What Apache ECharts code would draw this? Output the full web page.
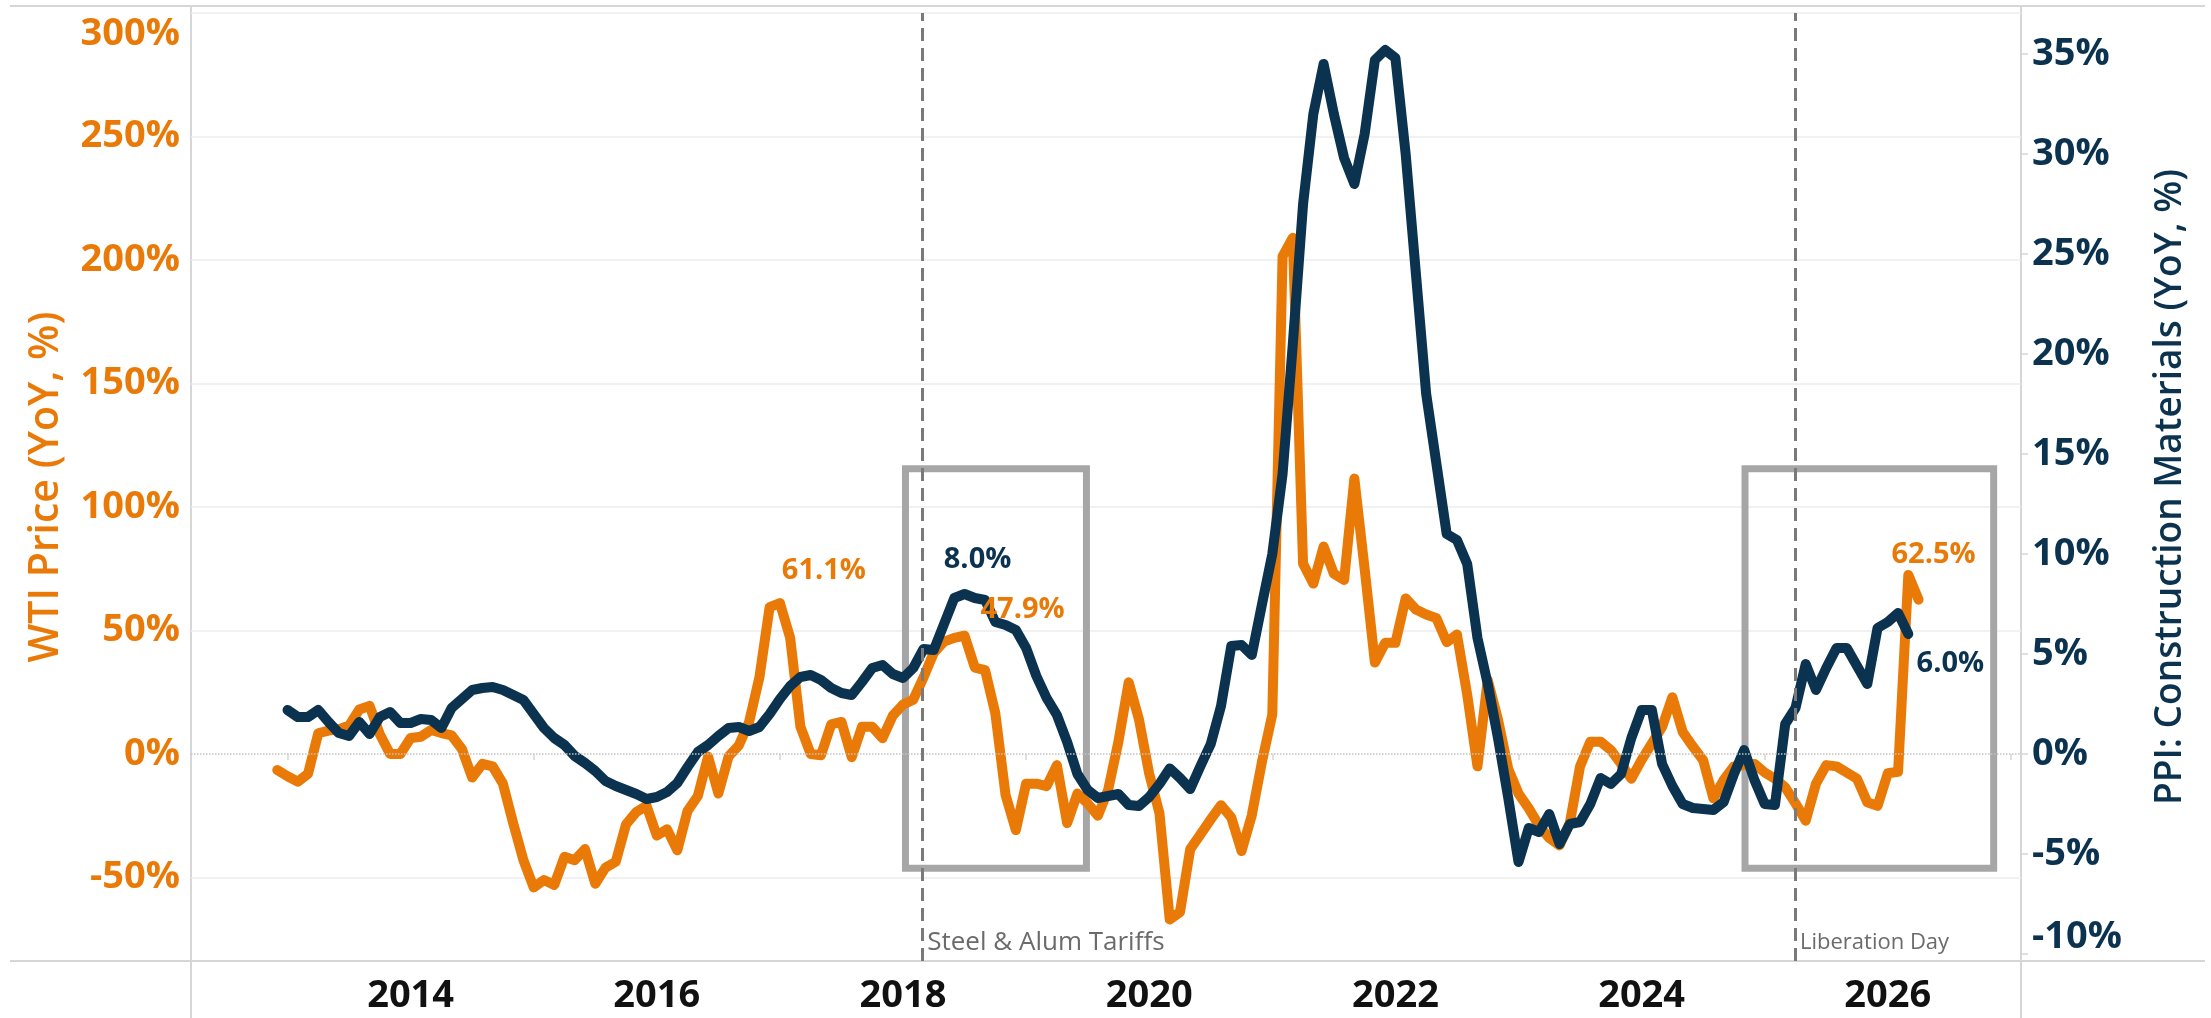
<!DOCTYPE html>
<html>
<head>
<meta charset="utf-8">
<title>WTI vs PPI Construction Materials</title>
<script src="https://cdn.jsdelivr.net/npm/echarts@6.0.0/dist/echarts.min.js"></script>
<style>
  html, body { margin: 0; padding: 0; background: #fff; }
  #chart { width: 2211px; height: 1018px; }
</style>
</head>
<body>
<div id="chart"></div>
<script>
// monthly series, first point = Dec 2012
const startYear = 2012
const startMonth = 12

// WTI price, YoY %
const wti = [
  -6.5, -9, -11.2, -8, 8.4, 9.5, 10, 11.5, 18, 19.5, 8, 0, 0,
  6.5, 7, 9.7, 8.5, 7.5, 2, -9.5, -4, -5, -12, -28, -43,
  -54, -51, -53, -41.6, -43, -38.5, -52.5, -46, -43.6, -28.5, -23.5, -21,
  -33, -30.5, -39, -23, -17, -1, -16, -1, 3.5, 13, 31, 59.5,
  61.1, 47, 11, 0, -0.5, 12, 13, -1.3, 11, 11, 6.4, 15.5,
  20, 22, 31, 41, 45.5, 47, 47.9, 35, 34, 16.5, -16.6, -30.8,
  -12, -12, -13, -4.5, -28, -16, -20, -25, -14.5, 5, 29, 14,
  -8, -24, -67, -64, -38.5, -32.5, -26.5, -20.7, -25.7, -39.3, -24.8, -3,
  16, 201.5, 209, 77, 69, 84, 73, 70.5, 111.5, 75, 37, 45,
  45, 63, 58.5, 56.5, 55, 45.3, 48.4, 24, -5, 30, 14, -6,
  -16, -22, -29, -34, -37, -28, -5, 5, 5, 1.6, -4, -10,
  -2.4, 4.3, 11, 23, 9, 3, -2.5, -18, -10.5, -5, -4.5, -4,
  -7.5, -10, -13.5, -20, -27, -12, -4.5, -5, -7.5, -10, -19.5, -21,
  -7.8, -7.2, 72.5, 62.5
]

// PPI: construction materials, YoY %
const ppi = [
  null, 2.2, 1.85, 1.85, 2.2, 1.6, 1.05, 0.9, 1.6, 1.0, 1.85, 2.1, 1.55,
  1.55, 1.75, 1.7, 1.3, 2.3, 2.75, 3.2, 3.3, 3.35, 3.2, 2.95, 2.7,
  2.0, 1.3, 0.8, 0.45, -0.1, -0.45, -0.85, -1.35, -1.6, -1.8, -2.0, -2.25,
  -2.15, -1.9, -1.45, -0.65, 0.1, 0.45, 0.9, 1.3, 1.35, 1.15, 1.35, 2.0,
  2.75, 3.4, 3.85, 3.95, 3.7, 3.3, 3.05, 2.95, 3.6, 4.3, 4.45, 4.0,
  3.8, 4.3, 5.25, 5.2, 6.5, 7.8, 8.0, 7.8, 7.7, 6.6, 6.45, 6.2,
  5.3, 3.9, 2.8, 1.95, 0.6, -1.0, -1.8, -2.2, -2.1, -2.0, -2.55, -2.6,
  -2.15, -1.5, -0.72, -1.2, -1.75, -0.6, 0.5, 2.4, 5.4, 5.45, 4.95, 7.5,
  10.0, 14, 20.5, 27.5, 32, 34.5, 32, 29.8, 28.5, 31, 34.7, 35.2,
  34.8, 30, 24, 18, 14.5, 11, 10.7, 9.5, 5.8, 3.5, 0.8, -2.2,
  -5.4, -3.7, -3.9, -3.0, -4.5, -3.5, -3.4, -2.5, -1.2, -1.5, -1.0, 0.8,
  2.2, 2.2, -0.5, -1.6, -2.5, -2.7, -2.75, -2.8, -2.4, -1.0, 0.2, -1.3,
  -2.5, -2.55, 1.5, 2.3, 4.5, 3.2, 4.3, 5.3, 5.3, 4.4, 3.5, 6.3,
  6.6, 7.05, 6.0
]

const leftTicks = [-50, 0, 50, 100, 150, 200, 250, 300]
const leftGrid = [-50, 50, 100, 150, 200, 250, 300]
const rightTicks = [-10, -5, 0, 5, 10, 15, 20, 25, 30, 35]
const yearLabels = [2014, 2016, 2018, 2020, 2022, 2024, 2026]
const yearTicks = [2013, 2015, 2017, 2019, 2021, 2023, 2025, 2027]

// annotations
const events = [
  { name: 'Steel & Alum Tariffs', year: 2018.16, size: 26 },
  { name: 'Liberation Day', year: 2025.25, size: 22 }
]
const eventLabelY = -76.5
const boxes = [[2018.02, 2019.49], [2024.84, 2026.86]]
const boxRange = [-46.2, 115.5]
const callouts = [
  { series: 'wti', index: 49, offset: [44, -32] },
  { series: 'wti', index: 67, offset: [58, -26] },
  { series: 'wti', index: 160, offset: [15, -45] },
  { series: 'ppi', index: 67, offset: [13, -34] },
  { series: 'ppi', index: 159, offset: [42, 30] }
]

const ORANGE = '#EA7A07'
const NAVY = '#0B3350'
const GRID_LINE = '#EDEDED'
const FRAME = '#D6D6D6'
const FONT = '"Open Sans", "DejaVu Sans", sans-serif'
const W = 2211, H = 1018
const G = { left: 191, right: 190, top: 13, bottom: 57 }

const monthX = i => startYear + (startMonth - 1 + i) / 12
const toPoints = arr => arr.map((v, i) => [monthX(i), v]).filter(p => p[1] !== null)
const pct = v => v.toFixed(1) + '%'

const calloutData = (name, arr, color) =>
  callouts.filter(c => c.series === name).map(c => ({
    coord: [monthX(c.index), arr[c.index]],
    value: arr[c.index],
    label: { offset: c.offset, color: color }
  }))

const calloutStyle = {
  symbol: 'circle',
  symbolSize: 1,
  silent: true,
  itemStyle: { color: 'rgba(0,0,0,0)' },
  label: {
    show: true,
    position: 'inside',
    formatter: p => pct(p.value),
    fontFamily: FONT,
    fontSize: 29,
    fontWeight: 'bold'
  }
}

const tickLabel = (color) => ({
  color: color,
  fontFamily: FONT,
  fontWeight: 'bold',
  fontSize: 38
})

const chart = echarts.init(document.getElementById('chart'))

const option = {
  animation: false,
  backgroundColor: '#fff',
  grid: { left: G.left, right: G.right, top: G.top, bottom: G.bottom, containLabel: false },
  xAxis: {
    type: 'value',
    min: 2012.216,
    max: 2027.082,
    axisLine: { show: false },
    axisTick: { show: true, customValues: yearTicks, length: 6, lineStyle: { color: FRAME, width: 1.5 } },
    axisLabel: Object.assign(tickLabel('#111'), {
      customValues: yearLabels,
      formatter: v => String(Math.round(v)),
      margin: 16
    }),
    splitLine: { show: false }
  },
  yAxis: [
    {
      type: 'value',
      position: 'left',
      min: -83.8,
      max: 300,
      axisLine: { show: false },
      axisTick: { show: false, customValues: leftGrid },
      splitLine: { show: true, lineStyle: { color: GRID_LINE, width: 1.5 } },
      axisLabel: Object.assign(tickLabel(ORANGE), {
        customValues: leftTicks,
        margin: 11,
        formatter: v => v === 300 ? '{top|300%}' : v + '%',
        rich: { top: Object.assign(tickLabel(ORANGE), { padding: [42, 0, 0, 0] }) }
      }),
      name: 'WTI Price (YoY, %)',
      nameLocation: 'middle',
      nameRotate: 90,
      nameGap: 124,
      nameTextStyle: { color: ORANGE, fontFamily: FONT, fontWeight: 600, fontSize: 41 }
    },
    {
      type: 'value',
      position: 'right',
      min: -10.35,
      max: 37.05,
      axisLine: { show: false },
      axisTick: { show: true, inside: false, length: 7, customValues: rightTicks, lineStyle: { color: FRAME, width: 1.5 } },
      splitLine: { show: false },
      axisLabel: Object.assign(tickLabel(NAVY), {
        customValues: rightTicks,
        margin: 11,
        formatter: v => v === -10 ? '{bot|-10%}' : v + '%',
        rich: { bot: Object.assign(tickLabel(NAVY), { padding: [0, 0, 34, 0] }) }
      }),
      name: 'PPI: Construction Materials (YoY, %)',
      nameLocation: 'middle',
      nameRotate: 90,
      nameGap: 131,
      nameTextStyle: { color: NAVY, fontFamily: FONT, fontWeight: 600, fontSize: 37 }
    }
  ],
  graphic: [
    { type: 'line', silent: true, z: 0, shape: { x1: G.left, y1: 6, x2: G.left, y2: H }, style: { stroke: FRAME, lineWidth: 2 } },
    { type: 'line', silent: true, z: 0, shape: { x1: W - G.right, y1: 6, x2: W - G.right, y2: H }, style: { stroke: FRAME, lineWidth: 2 } },
    { type: 'line', silent: true, z: 0, shape: { x1: 10, y1: 6, x2: W - 6, y2: 6 }, style: { stroke: FRAME, lineWidth: 2 } },
    { type: 'line', silent: true, z: 0, shape: { x1: 10, y1: H - G.bottom, x2: W - 6, y2: H - G.bottom }, style: { stroke: FRAME, lineWidth: 2 } }
  ],
  series: [
    {
      name: 'zero',
      type: 'line',
      data: [],
      z: 1,
      markLine: {
        silent: true,
        symbol: ['none', 'none'],
        label: { show: false },
        lineStyle: { type: 'dotted', color: '#C2C2C2', width: 1.5 },
        data: [{ yAxis: 0 }]
      },
      markArea: {
        silent: true,
        itemStyle: { color: 'rgba(0,0,0,0)', borderColor: '#A6A6A6', borderWidth: 7 },
        data: boxes.map(b => [{ xAxis: b[0], yAxis: boxRange[1] }, { xAxis: b[1], yAxis: boxRange[0] }])
      }
    },
    {
      name: 'WTI Price (YoY, %)',
      type: 'line',
      yAxisIndex: 0,
      z: 3,
      data: toPoints(wti),
      showSymbol: false,
      lineStyle: { color: ORANGE, width: 10, cap: 'round', join: 'round' },
      itemStyle: { color: ORANGE },
      markPoint: Object.assign({ data: calloutData('wti', wti, ORANGE) }, calloutStyle)
    },
    {
      name: 'PPI: Construction Materials (YoY, %)',
      type: 'line',
      yAxisIndex: 1,
      z: 4,
      data: toPoints(ppi),
      showSymbol: false,
      lineStyle: { color: NAVY, width: 10, cap: 'round', join: 'round' },
      itemStyle: { color: NAVY },
      markPoint: Object.assign({ data: calloutData('ppi', ppi, NAVY) }, calloutStyle)
    },
    {
      name: 'events',
      type: 'line',
      data: [],
      z: 10,
      markLine: {
        silent: true,
        symbol: ['none', 'none'],
        label: { show: false },
        lineStyle: { type: [13, 7], color: '#7A7A7A', width: 3 },
        data: events.map(e => ({ xAxis: e.year }))
      },
      markPoint: {
        silent: true,
        symbol: 'circle',
        symbolSize: 1,
        itemStyle: { color: 'rgba(0,0,0,0)' },
        label: {
          show: true,
          position: 'right',
          distance: 4,
          formatter: '{b}',
          color: '#6B6B6B',
          fontFamily: FONT
        },
        data: events.map(e => ({ name: e.name, coord: [e.year, eventLabelY], label: { fontSize: e.size } }))
      }
    }
  ]
}

chart.setOption(option)
window.addEventListener('resize', () => chart.resize())
</script>
</body>
</html>
